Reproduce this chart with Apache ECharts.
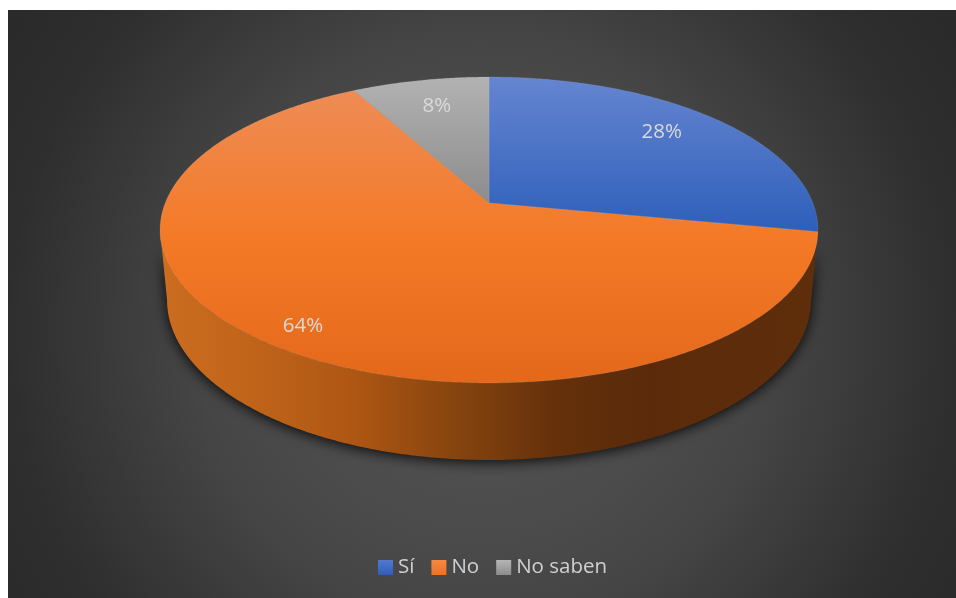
<!DOCTYPE html>
<html>
<head>
<meta charset="utf-8">
<style>
  html, body { margin: 0; padding: 0; background: #fff; }
  #chart { position: absolute; left: 8px; top: 10px; width: 948px; height: 588px; }
</style>
<script src="https://cdn.jsdelivr.net/npm/echarts@6/dist/echarts.min.js"></script>
</head>
<body>
<div id="chart"></div>
<script>
// Survey answers, in percent
const categories = ['Sí', 'No', 'No saben'];
const values = [28, 64, 8];

// Top-face gradients, one per answer
const faceStops = [
  ['#6585D0', '#2E5FBA'],
  ['#EE8C55', '#F47A27', '#E4681A'],
  ['#B2B2B2', '#8C8C8C']
];
const legendStops = [
  ['#5478CB', '#2E5FBA'],
  ['#F58A45', '#F0701F'],
  ['#B5B5B5', '#8C8C8C']
];
// Wall shading, left to right across the disc
const wallStops = [
  [0, '#CC6D20'], [0.14, '#C0641A'], [0.3, '#AD5613'], [0.44, '#88450E'],
  [0.6, '#65310B'], [0.74, '#5A2A0A'], [1, '#5F2F0C']
];
// How far out along its mid-angle each percentage sits, plus a small nudge
const labelReach = [0.76, 0.87, 0.76];
const labelNudge = [[-2, -5], [3, 4], [2, 0]];

// Perspective disc: tilt bends the circle so the hub sits above the ellipse centre
const tilt = 54 / 306;
const topDisc = { x: 481, y: 193, rx: 323.8, ry: 148.2 };
const baseDisc = { x: 481, y: 261.8, rx: 316.9, ry: 155 };
const fontFamily = '"Open Sans", sans-serif';

function project(disc, angle, reach) {
  const u = Math.sin(angle) * reach;
  const v = -Math.cos(angle) * reach;
  const d = 1 - tilt * v;
  return [disc.x + disc.rx * u / d, disc.y + disc.ry * v / d];
}

function arc(disc, from, to) {
  const n = Math.max(2, Math.ceil(Math.abs(to - from) / (Math.PI / 360)));
  const pts = [];
  for (let i = 0; i <= n; i++) pts.push(project(disc, from + (to - from) * i / n, 1));
  return pts;
}

function vertical(stops) {
  return {
    type: 'linear', x: 0, y: 0, x2: 0, y2: 1,
    colorStops: stops.map((c, i) => ({ offset: i / (stops.length - 1), color: c }))
  };
}

const total = values.reduce((a, b) => a + b, 0);
const toAngle = (share) => share / total * Math.PI * 2;
// The wall shows only between the two silhouette tangents
const wallStart = Math.acos(-tilt);
const wallEnd = Math.PI * 2 - wallStart;

function drawSlice(index) {
  return function (params, api) {
    let before = 0;
    for (let i = 0; i < index; i++) before += values[i];
    const from = toAngle(before);
    const to = from + toAngle(api.value(0));
    const mid = (from + to) / 2;
    const children = [];

    const wallFrom = Math.max(from, wallStart);
    const wallTo = Math.min(to, wallEnd);
    if (wallTo - wallFrom > Math.PI / 90) {
      children.push({
        type: 'polygon',
        z2: 1,
        shape: { points: arc(topDisc, wallFrom, wallTo).concat(arc(baseDisc, wallTo, wallFrom)) },
        style: {
          fill: {
            type: 'linear', x: 0, y: 0, x2: 1, y2: 0,
            colorStops: wallStops.map((s) => ({ offset: s[0], color: s[1] }))
          },
          shadowColor: 'rgba(0,0,0,0.9)',
          shadowBlur: 14,
          shadowOffsetY: 2
        }
      });
    }

    children.push({
      type: 'polygon',
      z2: 2,
      shape: { points: [[topDisc.x, topDisc.y]].concat(arc(topDisc, from, to)) },
      style: {
        fill: vertical(faceStops[index]),
        stroke: 'rgba(255,255,255,0.16)',
        lineWidth: 0.6
      }
    });

    const anchor = project(topDisc, mid, labelReach[index]);
    children.push({
      type: 'text',
      z2: 3,
      style: {
        text: api.value(0) + '%',
        x: anchor[0] + labelNudge[index][0],
        y: anchor[1] + labelNudge[index][1],
        fill: '#DADADA',
        font: '20.5px ' + fontFamily,
        align: 'center',
        verticalAlign: 'middle'
      }
    });
    return { type: 'group', children: children };
  };
}

const chart = echarts.init(document.getElementById('chart'), null, { renderer: 'canvas' });
chart.setOption({
  animation: false,
  backgroundColor: {
    type: 'radial', x: 0.5, y: 0.54, r: 0.96,
    colorStops: [
      { offset: 0, color: '#585858' },
      { offset: 0.5, color: '#464646' },
      { offset: 0.84, color: '#2E2E2E' },
      { offset: 1, color: '#2A2A2A' }
    ]
  },
  legend: {
    left: 365,
    top: 542,
    itemWidth: 15,
    itemHeight: 15,
    itemGap: 17,
    selectedMode: false,
    textStyle: { color: '#D0D0D0', fontSize: 20.5, fontFamily: fontFamily },
    data: categories.map((name, i) => ({
      name: name,
      icon: 'rect',
      itemStyle: { color: vertical(legendStops[i]) }
    }))
  },
  series: categories.map((name, i) => ({
    type: 'custom',
    name: name,
    coordinateSystem: 'none',
    silent: true,
    renderItem: drawSlice(i),
    data: [[values[i]]]
  }))
});
</script>
</body>
</html>
